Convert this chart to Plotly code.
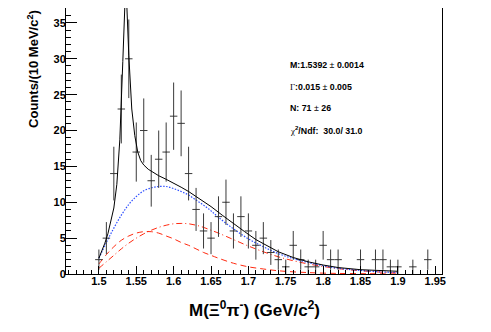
import numpy as np
import plotly.graph_objects as go

# histogram: bin centres and counts
mass = [1.50, 1.51, 1.52, 1.53, 1.54, 1.55, 1.56, 1.57, 1.58, 1.59,
        1.60, 1.61, 1.62, 1.63, 1.64, 1.65, 1.66, 1.67, 1.68, 1.69,
        1.70, 1.71, 1.72, 1.73, 1.74, 1.75, 1.76, 1.77, 1.78, 1.79,
        1.80, 1.81, 1.82, 1.83, 1.84, 1.85, 1.86, 1.87, 1.88, 1.89,
        1.90, 1.91, 1.92, 1.93, 1.94, 1.95]
counts = [2, 5, 14, 23, 30, 17, 20, 13, 16, 17,
          22, 21, 14, 9, 6, 5, 8, 10, 6, 8,
          6, 4, 5, 3, 2, 1, 4, 2, 1, 1,
          4, 2, 2, 0, 0, 2, 0, 2, 2, 1,
          1, 0, 1, 0, 2, 0]

# total fit (black)
fit_x = [1.500, 1.504, 1.508, 1.512, 1.516, 1.520, 1.524, 1.528, 1.532, 1.536,
         1.540, 1.544, 1.548, 1.552, 1.556, 1.560, 1.566, 1.573, 1.580, 1.590,
         1.600, 1.610, 1.620, 1.635, 1.650, 1.665, 1.680, 1.695, 1.710, 1.725,
         1.740, 1.760, 1.780, 1.800, 1.820, 1.850, 1.875, 1.900]
fit_y = [2.2, 3.2, 4.3, 5.6, 7.3, 9.2, 12.5, 18.7, 29.6, 41.0,
         30.5, 23.0, 19.3, 17.0, 15.8, 15.2, 14.6, 14.1, 13.7, 13.2,
         12.7, 12.1, 11.5, 10.5, 9.4, 8.2, 7.0, 5.9, 4.8, 3.9,
         3.1, 2.3, 1.7, 1.25, 0.9, 0.6, 0.45, 0.38]

# background components
bkg_x = [1.50, 1.51, 1.52, 1.53, 1.54, 1.55, 1.56, 1.57, 1.58, 1.59,
         1.60, 1.61, 1.62, 1.63, 1.64, 1.65, 1.66, 1.68, 1.70, 1.72,
         1.74, 1.76, 1.78, 1.80, 1.82, 1.85, 1.88, 1.90]
bkg_total = [2.2, 4.4, 6.4, 8.2, 9.7, 10.8, 11.6, 12.0, 12.2, 12.2,
             11.9, 11.5, 11.0, 10.3, 9.6, 8.8, 7.9, 6.3, 4.9, 3.8,
             2.85, 2.15, 1.6, 1.15, 0.8, 0.5, 0.28, 0.2]
bkg_a = [1.4, 2.7, 3.8, 4.7, 5.3, 5.7, 5.9, 5.9, 5.7, 5.3,
         4.9, 4.4, 4.0, 3.5, 3.0, 2.6, 2.2, 1.5, 1.0, 0.7,
         0.45, 0.3, 0.2, 0.12, 0.08, 0.05, 0.03, 0.02]
bkg_b = [0.8, 1.7, 2.6, 3.5, 4.3, 5.0, 5.6, 6.1, 6.5, 6.8,
         7.0, 7.05, 7.0, 6.8, 6.5, 6.1, 5.7, 4.8, 3.9, 3.1,
         2.4, 1.85, 1.4, 1.05, 0.75, 0.45, 0.25, 0.18]

PM = "<span style='font-weight:normal'>±</span>"
SERIF = "<span style='font-family:Liberation Serif;font-weight:normal'>%s</span>"
stats = ["M:1.5392 " + PM + " 0.0014",
         SERIF % "Γ" + ":0.015 " + PM + " 0.005",
         "N: 71 " + PM + " 26",
         SERIF % "χ" + "<sup>2</sup>/Ndf:  30.0/ 31.0"]

fig = go.Figure()

fig.add_trace(go.Scatter(x=bkg_x, y=bkg_a, mode="lines", line_shape="spline",
                         line=dict(color="#ff2a10", width=1, dash="6px,4px")))
fig.add_trace(go.Scatter(x=bkg_x, y=bkg_b, mode="lines", line_shape="spline",
                         line=dict(color="#ff2a10", width=1, dash="6px,3px,1px,3px")))
fig.add_trace(go.Scatter(x=bkg_x, y=bkg_total, mode="lines", line_shape="spline",
                         line=dict(color="#2a4cff", width=1.2, dash="1.5px,1.5px")))

nz = [i for i, c in enumerate(counts) if c > 0]
fig.add_trace(go.Scatter(
    x=[mass[i] for i in nz], y=[counts[i] for i in nz], mode="markers",
    marker=dict(size=1, color="#333"),
    error_y=dict(type="data", array=[np.sqrt(counts[i]) for i in nz],
                 width=0, thickness=1, color="#3a3a3a"),
    error_x=dict(type="constant", value=0.005, width=0, thickness=1, color="#3a3a3a")))

fig.add_trace(go.Scatter(x=fit_x, y=fit_y, mode="lines",
                         line=dict(color="black", width=1)))

for i, s in enumerate(stats):
    fig.add_annotation(x=1.753, y=29.1 - 3.0 * i, xref="x", yref="y",
                       text=s, showarrow=False, xanchor="left", yanchor="middle",
                       font=dict(size=8.8, family="Liberation Sans", color="black", weight="bold"))

fig.add_annotation(x=-0.088, y=1.0, xref="paper", yref="paper", textangle=-90,
                   text="Counts/(10 MeV/c<sup>2</sup>)", showarrow=False,
                   xanchor="center", yanchor="top",
                   font=dict(size=13, family="Liberation Sans", color="black", weight="bold"))
fig.add_annotation(x=0.5, y=-0.133, xref="paper", yref="paper",
                   text="M(Ξ<sup>0</sup>π<sup>-</sup>) (GeV/c<sup>2</sup>)", showarrow=False,
                   xanchor="center", yanchor="middle",
                   font=dict(size=17, family="Liberation Sans", color="black", weight="bold"))

fig.update_xaxes(range=[1.456, 1.959], tick0=1.5, dtick=0.05, ticks="inside", ticklen=8,
                 tickcolor="black", showgrid=False, zeroline=False, ticklabelstandoff=-3,
                 showline=True, linecolor="black", linewidth=1, mirror=True,
                 minor=dict(dtick=0.01, ticks="inside", ticklen=4, tickcolor="black"),
                 tickfont=dict(size=11, family="Liberation Sans", color="black", weight="bold"))
fig.update_yaxes(range=[0, 37.08], dtick=5, ticks="inside", ticklen=11,
                 tickcolor="black", showgrid=False, zeroline=False, ticklabelstandoff=-3,
                 showline=True, linecolor="black", linewidth=1, mirror=True,
                 minor=dict(dtick=1, ticks="inside", ticklen=5, tickcolor="black"),
                 tickfont=dict(size=11, family="Liberation Sans", color="black", weight="bold"))

# page body keeps its default 8px margin, so size the figure to land the frame where the reference has it
fig.update_layout(width=475, height=316, margin=dict(l=58, r=41, t=0, b=49.5),
                  paper_bgcolor="white", plot_bgcolor="white", showlegend=False)

fig.write_html("out.html")
